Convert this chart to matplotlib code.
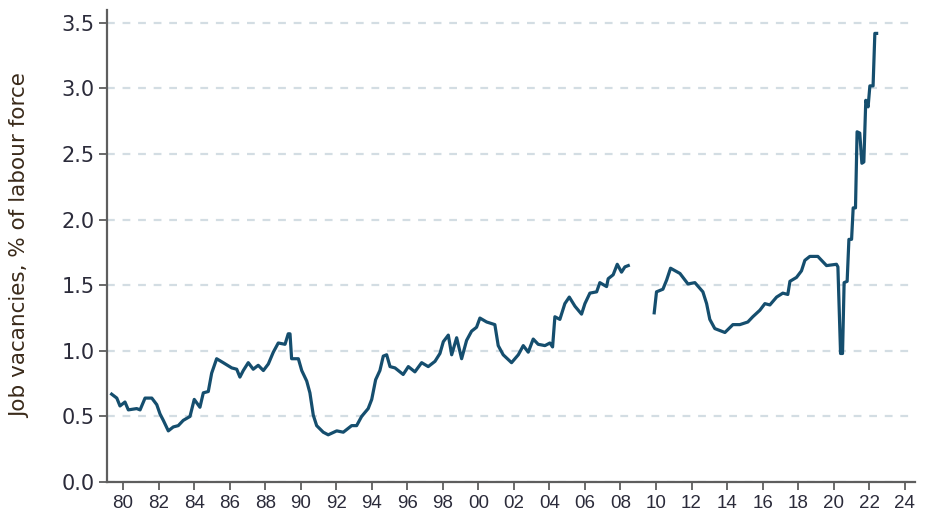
import numpy as np
import matplotlib
matplotlib.use("Agg")
import matplotlib.pyplot as plt

#%% data (decimal year, % of labour force)
years_a = [1979.36, 1979.65, 1979.83, 1980.11, 1980.30, 1980.77, 1980.96, 1981.24,
           1981.62, 1981.90, 1982.08, 1982.27, 1982.55, 1982.83, 1983.11, 1983.39,
           1983.77, 1984.01, 1984.33, 1984.52, 1984.80, 1984.99, 1985.27, 1985.64,
           1986.12, 1986.40, 1986.58, 1986.77, 1987.05, 1987.33, 1987.61, 1987.90,
           1988.18, 1988.46, 1988.74, 1989.12, 1989.30, 1989.40, 1989.49, 1989.87,
           1990.06, 1990.34, 1990.52, 1990.71, 1990.90, 1991.27, 1991.55, 1992.03,
           1992.40, 1992.87, 1993.15, 1993.43, 1993.80, 1994.00, 1994.22, 1994.46,
           1994.65, 1994.84, 1995.03, 1995.31, 1995.77, 1996.06, 1996.43, 1996.81,
           1997.18, 1997.56, 1997.84, 1998.03, 1998.31, 1998.50, 1998.78, 1999.06,
           1999.34, 1999.62, 1999.90, 2000.09, 2000.47, 2000.93, 2001.12, 2001.40,
           2001.87, 2002.25, 2002.53, 2002.81, 2003.09, 2003.37, 2003.75, 2004.03,
           2004.18, 2004.31, 2004.59, 2004.87, 2005.12, 2005.44, 2005.81, 2006.00,
           2006.28, 2006.66, 2006.84, 2007.22, 2007.31, 2007.59, 2007.82, 2008.06,
           2008.25, 2008.44]
vac_a = [0.67, 0.64, 0.58, 0.61, 0.55, 0.56, 0.55, 0.64,
         0.64, 0.59, 0.52, 0.47, 0.39, 0.42, 0.43, 0.47,
         0.50, 0.63, 0.57, 0.68, 0.69, 0.83, 0.94, 0.91,
         0.87, 0.86, 0.80, 0.85, 0.91, 0.86, 0.89, 0.85,
         0.90, 0.99, 1.06, 1.05, 1.13, 1.13, 0.94, 0.94,
         0.85, 0.77, 0.68, 0.51, 0.43, 0.38, 0.36, 0.39,
         0.38, 0.43, 0.43, 0.50, 0.56, 0.63, 0.78, 0.85,
         0.96, 0.97, 0.88, 0.87, 0.82, 0.88, 0.84, 0.91,
         0.88, 0.92, 0.98, 1.07, 1.12, 0.97, 1.10, 0.94,
         1.08, 1.15, 1.18, 1.25, 1.22, 1.20, 1.04, 0.97,
         0.91, 0.97, 1.04, 0.99, 1.09, 1.05, 1.04, 1.06,
         1.03, 1.26, 1.24, 1.36, 1.41, 1.34, 1.28, 1.36,
         1.44, 1.45, 1.52, 1.49, 1.55, 1.58, 1.66, 1.60,
         1.64, 1.65]

years_b = [2009.90, 2010.03, 2010.39, 2010.60, 2010.82, 2011.35, 2011.80, 2012.19,
           2012.64, 2012.85, 2013.03, 2013.31, 2013.88, 2014.33, 2014.72, 2015.17,
           2015.45, 2015.85, 2016.13, 2016.41, 2016.79, 2017.14, 2017.42, 2017.54,
           2017.91, 2018.19, 2018.38, 2018.66, 2019.11, 2019.32, 2019.60, 2020.16,
           2020.24, 2020.39, 2020.50, 2020.59, 2020.76, 2020.86, 2021.01, 2021.10,
           2021.23, 2021.32, 2021.47, 2021.59, 2021.70, 2021.81, 2021.94, 2022.04,
           2022.22, 2022.32, 2022.42]
vac_b = [1.29, 1.45, 1.47, 1.54, 1.63, 1.59, 1.51, 1.52,
         1.45, 1.36, 1.24, 1.17, 1.14, 1.20, 1.20, 1.22,
         1.26, 1.31, 1.36, 1.35, 1.41, 1.44, 1.43, 1.53,
         1.56, 1.61, 1.69, 1.72, 1.72, 1.69, 1.65, 1.66,
         1.64, 0.98, 0.98, 1.52, 1.53, 1.85, 1.85, 2.09,
         2.09, 2.67, 2.66, 2.43, 2.44, 2.91, 2.86, 3.02,
         3.02, 3.42, 3.42]

tick_years = list(range(1980, 2025, 2))
tick_labels = ["%02d" % (y % 100) for y in tick_years]
y_ticks = [0.0, 0.5, 1.0, 1.5, 2.0, 2.5, 3.0, 3.5]

#%% plot
plt.rcParams['font.family'] = ['DejaVu Sans']

fig = plt.figure(figsize=(9.25, 5.15), dpi=100)
ax = fig.add_axes([0.1157, 0.064, 0.8733, 0.917])

# a gap in the series between the two pieces
years = years_a + [np.nan] + years_b
vac = vac_a + [np.nan] + vac_b
ax.plot(years, vac, color='#154e6e', lw=2.3, solid_joinstyle='round', zorder=3)

ax.set_xlim(1979.1, 2024.57)
ax.set_ylim(0, 3.6)
ax.set_xticks(tick_years)
ax.set_xticklabels(tick_labels, family=['Liberation Sans', 'DejaVu Sans'], fontsize=13.5)
ax.set_yticks(y_ticks)
ax.set_yticklabels(["%.1f" % v for v in y_ticks], fontsize=15)

ax.yaxis.grid(True, color='#d3dde3', lw=1.6, dashes=(3.5, 3.5))
ax.set_axisbelow(True)

for side in ['top', 'right']:
    ax.spines[side].set_visible(False)
for side in ['left', 'bottom']:
    ax.spines[side].set_color('#5e5e5e')
    ax.spines[side].set_linewidth(1.6)

ax.tick_params(axis='both', colors='#5e5e5e', labelcolor='#2b2b3a',
               length=6, width=1.3, direction='out')
ax.tick_params(axis='x', pad=3)
ax.tick_params(axis='y', pad=3)

ax.set_ylabel("Job vacancies, % of labour force", fontsize=15.5,
              color='#3a2a1a')
ax.yaxis.set_label_coords(-0.095, 0.5)

fig.savefig('out.png', dpi=100)
